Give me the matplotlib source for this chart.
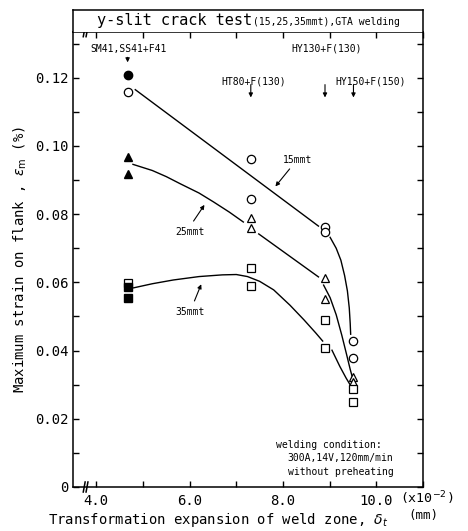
import matplotlib
matplotlib.use('Agg')
import matplotlib.pyplot as plt
import numpy as np

plt.rcParams['font.family'] = ['DejaVu Sans Mono']
plt.rcParams['mathtext.fontset'] = 'dejavusans'

# x positions of the steels (x10^-2 mm)
x_sm41 = 4.67
x_ht80 = 7.31
x_hy130 = 8.90
x_hy150 = 9.51

# 15 mm thick plate (circles)
t15_open_x = [x_sm41, x_ht80, x_ht80, x_hy130, x_hy130, x_hy150, x_hy150]
t15_open_y = [0.1158, 0.0963, 0.0843, 0.0761, 0.0748, 0.0429, 0.0377]
t15_fill_x = [x_sm41]
t15_fill_y = [0.1209]

# 25 mm (triangles)
t25_open_x = [x_ht80, x_ht80, x_hy130, x_hy130, x_hy150, x_hy150]
t25_open_y = [0.0789, 0.0758, 0.0612, 0.0550, 0.0322, 0.0309]
t25_fill_x = [x_sm41, x_sm41]
t25_fill_y = [0.0968, 0.0919]

# 35 mm (squares)
t35_open_x = [x_sm41, x_ht80, x_ht80, x_hy130, x_hy130, x_hy150, x_hy150]
t35_open_y = [0.0599, 0.0641, 0.0590, 0.0489, 0.0409, 0.0286, 0.0248]
t35_fill_x = [x_sm41, x_sm41]
t35_fill_y = [0.0587, 0.0553]

# hand drawn trend curves
c15a_x = [4.835, 8.76]
c15a_y = [0.1165, 0.0765]
c15b_x = [9.01, 9.14, 9.24, 9.32, 9.38, 9.42, 9.44, 9.45]
c15b_y = [0.0732, 0.0700, 0.0665, 0.0620, 0.0575, 0.0525, 0.0480, 0.0448]

c25a_x = [4.785, 5.2, 5.5, 5.8, 6.2, 6.51, 6.85, 7.15]
c25a_y = [0.0946, 0.0928, 0.0910, 0.0889, 0.0862, 0.0836, 0.0806, 0.0777]
c25b_x = [7.48, 8.76]
c25b_y = [0.0742, 0.0616]
c25c_x = [8.87, 9.01, 9.14, 9.26, 9.36, 9.44, 9.48]
c25c_y = [0.0592, 0.0555, 0.0505, 0.0445, 0.0390, 0.0345, 0.0325]

c35a_x = [4.80, 5.2, 5.65, 6.2, 6.7, 7.0, 7.24, 7.5, 7.8, 8.15, 8.45, 8.70, 8.85]
c35a_y = [0.0584, 0.0596, 0.0607, 0.0617, 0.0622, 0.0623, 0.0617, 0.0603, 0.0578, 0.0533, 0.0490, 0.0452, 0.0428]
c35b_x = [9.05, 9.22, 9.35, 9.45]
c35b_y = [0.0401, 0.0353, 0.0320, 0.0297]

fig = plt.figure(figsize=(4.68, 5.31), dpi=100)
ax = fig.add_axes([73/468, 44/531, 350/468, 455.3/531])
tb = fig.add_axes([73/468, 1 - 31.7/531, 350/468, 21.7/531])

lw = 1.0
for xs, ys in [(c15a_x, c15a_y), (c15b_x, c15b_y), (c25a_x, c25a_y), (c25b_x, c25b_y),
               (c25c_x, c25c_y), (c35a_x, c35a_y), (c35b_x, c35b_y)]:
    ax.plot(xs, ys, color='k', lw=lw)

ms = 6
ax.plot(t15_open_x, t15_open_y, 'o', mfc='white', mec='k', ms=ms, mew=0.9, ls='none')
ax.plot(t15_fill_x, t15_fill_y, 'o', mfc='k', mec='k', ms=ms, ls='none')
ax.plot(t25_open_x, t25_open_y, '^', mfc='white', mec='k', ms=ms, mew=0.9, ls='none')
ax.plot(t25_fill_x, t25_fill_y, '^', mfc='k', mec='k', ms=ms, ls='none')
ax.plot(t35_open_x, t35_open_y, 's', mfc='white', mec='k', ms=5.5, mew=0.9, ls='none')
ax.plot(t35_fill_x, t35_fill_y, 's', mfc='k', mec='k', ms=5.5, ls='none')

ax.set_xlim(3.5, 11.0)
ax.set_ylim(0, 0.1335)
ax.set_xticks([4, 5, 6, 7, 8, 9, 10, 11])
ax.set_xticklabels(['4.0', '', '6.0', '', '8.0', '', '10.0', ''])
ax.set_yticks([0, 0.02, 0.04, 0.06, 0.08, 0.10, 0.12])
ax.set_yticklabels(['0', '0.02', '0.04', '0.06', '0.08', '0.10', '0.12'])
ax.set_yticks([0.01, 0.03, 0.05, 0.07, 0.09, 0.11, 0.13], minor=True)
ax.tick_params(which='both', direction='in', top=True, right=True, length=4.5, width=1.0,
               labelsize=10)
ax.tick_params(axis='x', pad=5)
for s in ax.spines.values():
    s.set_linewidth(1.1)

# axis break marks
for xb in [3.74, 3.80]:
    for yb in [0, 1]:
        ax.plot([xb - 0.02, xb + 0.02], [yb - 0.011, yb + 0.011], color='k', lw=1.1,
                transform=ax.get_xaxis_transform(), clip_on=False)

ax.set_ylabel(r'Maximum strain on flank , $\varepsilon_{\rm m}$ (%)', fontsize=10, labelpad=4)
fig.text(48/468, 1 - 520/531, r'Transformation expansion of weld zone, $\delta_t$',
         fontsize=10, va='center', ha='left')
fig.text(408/468, 1 - 515/531, '(mm)', fontsize=9, va='center', ha='left')
fig.text(400/468, 1 - 498/531, r'(x10$^{-2}$)', fontsize=9.5, va='center', ha='left')

# steel labels
fs = 7
ax.text(4.69, 0.1285, 'SM41,SS41+F41', fontsize=fs, ha='center', va='center')
ax.text(8.94, 0.1286, 'HY130+F(130)', fontsize=fs, ha='center', va='center')
ax.text(7.37, 0.1189, 'HT80+F(130)', fontsize=fs, ha='center', va='center')
ax.text(9.87, 0.1189, 'HY150+F(150)', fontsize=fs, ha='center', va='center')
arr = dict(arrowstyle='-|>', color='k', lw=0.8, mutation_scale=6)
ax.annotate('', xy=(x_sm41, 0.1237), xytext=(x_sm41, 0.1268), arrowprops=arr)
for xa in [x_ht80, x_hy130, x_hy150]:
    ax.annotate('', xy=(xa, 0.1134), xytext=(xa, 0.1188), arrowprops=arr)

# thickness labels
ax.annotate('', xy=(7.80, 0.0875), xytext=(8.18, 0.0939), arrowprops=arr)
ax.text(8.31, 0.0958, '15mmt', fontsize=fs, ha='center', va='center')
ax.annotate('', xy=(6.35, 0.0834), xytext=(6.05, 0.0773), arrowprops=arr)
ax.text(6.01, 0.0748, '25mmt', fontsize=fs, ha='center', va='center')
ax.annotate('', xy=(6.27, 0.0602), xytext=(6.08, 0.0538), arrowprops=arr)
ax.text(6.01, 0.0514, '35mmt', fontsize=fs, ha='center', va='center')

ax.text(7.86, 0.0123, 'welding condition:', fontsize=fs, ha='left', va='center')
ax.text(8.09, 0.0084, '300A,14V,120mm/min', fontsize=fs, ha='left', va='center')
ax.text(8.11, 0.0045, 'without preheating', fontsize=fs, ha='left', va='center')

# title box
tb.set_xticks([])
tb.set_yticks([])
tb.spines['bottom'].set_visible(False)
for s in ['left', 'right', 'top']:
    tb.spines[s].set_linewidth(1.1)
tb.text(23.7/350, 0.5, 'y-slit crack test', fontsize=11, ha='left', va='center',
        transform=tb.transAxes)
tb.text(180/350, 0.45, '(15,25,35mmt),GTA welding', fontsize=7, ha='left', va='center',
        transform=tb.transAxes)

plt.savefig('out.png', dpi=100)
